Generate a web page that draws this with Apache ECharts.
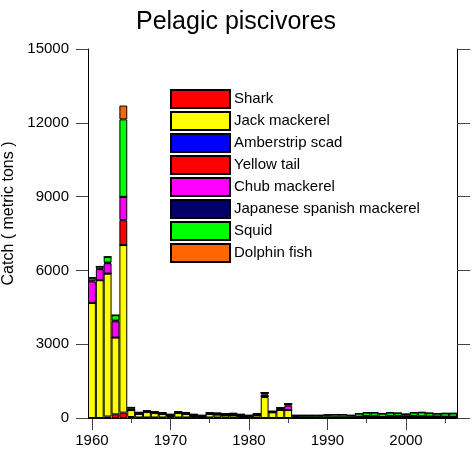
<!DOCTYPE html>
<html>
<head>
<meta charset="utf-8">
<script src="https://cdn.jsdelivr.net/npm/echarts@6/dist/echarts.min.js"></script>
<style>
html,body{margin:0;padding:0;background:#fff;}
#chart{width:472px;height:454px;}
</style>
</head>
<body>
<div id="chart"></div>
<script>
var years = [1960,1961,1962,1963,1964,1965,1966,1967,1968,1969,
             1970,1971,1972,1973,1974,1975,1976,1977,1978,1979,
             1980,1981,1982,1983,1984,1985,1986,1987,1988,1989,
             1990,1991,1992,1993,1994,1995,1996,1997,1998,1999,
             2000,2001,2002,2003,2004,2005,2006];

var seriesNames = ['Shark','Jack mackerel','Amberstrip scad','Yellow tail','Chub mackerel','Japanese spanish mackerel','Squid','Dolphin fish'];
var seriesColors = ['#ff0000','#ffff00','#0000ff','#ff0000','#ff00ff','#000066','#00ff00','#ff6600'];

var shark = [0,0,60,150,220,40,20,20,20,20,
             20,20,20,20,20,20,20,20,20,20,
             20,20,0,0,0,0,0,0,0,0,
             0,0,0,0,0,0,0,0,0,0,
             0,0,0,0,0,0,0];
var jackMackerel = [4680,5600,5810,3120,6810,280,150,220,180,140,
                    70,180,140,70,30,140,120,100,110,70,
                    30,110,850,230,330,320,20,10,10,10,
                    10,10,10,10,30,60,50,20,60,60,
                    50,60,50,40,40,30,30];
var amberstripScad = [0,0,0,0,0,0,0,0,0,0,
                      0,0,0,0,0,0,0,0,0,0,
                      0,0,30,0,0,0,0,0,0,0,
                      0,0,0,0,0,0,0,0,0,0,
                      0,0,0,0,0,0,0];
var yellowTail = [0,0,0,0,1010,0,0,0,0,0,
                  0,0,0,0,0,0,0,0,0,0,
                  0,0,0,0,0,0,0,0,0,0,
                  0,0,0,0,0,0,0,0,0,0,
                  0,0,0,0,0,0,0];
var chubMackerel = [870,450,420,660,950,0,0,0,0,0,
                    0,0,0,0,0,0,0,0,0,0,
                    0,0,70,0,0,180,0,0,0,0,
                    0,0,0,0,0,0,0,0,0,0,
                    0,0,0,0,0,0,0];
var japSpanishMackerel = [40,20,30,30,0,30,20,20,20,20,
                          20,20,20,20,20,20,20,20,20,20,
                          20,30,80,40,80,70,20,20,20,20,
                          20,20,20,20,20,20,20,20,20,20,
                          20,20,20,20,20,20,20];
var squid = [110,90,230,220,3150,80,40,40,40,40,
             40,40,40,40,40,40,40,40,40,40,
             40,20,0,0,0,0,70,80,80,80,
             100,110,110,80,130,140,150,140,140,120,
             90,140,160,140,120,140,140];
var dolphinFish = [0,0,0,0,560,0,0,0,0,0,
                   0,0,0,0,0,0,0,0,0,0,
                   0,0,0,0,0,0,0,0,0,0,
                   0,0,0,0,0,0,0,0,0,0,
                   0,0,0,0,0,0,0];

var yTicks = {min: 0, max: 15000, interval: 3000};

var seriesData = [shark, jackMackerel, amberstripScad, yellowTail, chubMackerel, japSpanishMackerel, squid, dolphinFish];

var FONT = '"Liberation Sans", Arial, sans-serif';

var chart = echarts.init(document.getElementById('chart'), null, {renderer: 'canvas'});

var series = seriesNames.map(function (name, i) {
  return {
    name: name,
    type: 'bar',
    stack: 'catch',
    xAxisIndex: 0,
    yAxisIndex: 0,
    barCategoryGap: '0%',
    barGap: '0%',
    data: seriesData[i],
    itemStyle: {color: seriesColors[i], borderColor: '#000', borderWidth: 1},
    emphasis: {disabled: true},
    animation: false
  };
});

var option = {
  animation: false,
  backgroundColor: '#fff',
  title: {
    text: 'Pelagic piscivores',
    left: 'center',
    top: 10,
    padding: 0,
    textStyle: {fontFamily: FONT, fontSize: 25, fontWeight: 'normal', color: '#000'}
  },
  legend: {
    orient: 'vertical',
    left: 170,
    top: 89,
    itemWidth: 59,
    itemHeight: 18,
    itemGap: 2,
    padding: 0,
    icon: 'rect',
    selectedMode: false,
    data: seriesNames,
    textStyle: {fontFamily: FONT, fontSize: 15, lineHeight: 18, color: '#000', padding: [0, 0, 0, -1]}
  },
  grid: {left: 88, right: 15, top: 49, bottom: 36, containLabel: false, outerBoundsMode: 'none'},
  xAxis: [
    {
      type: 'category',
      data: years,
      boundaryGap: true,
      axisLine: {show: true, lineStyle: {color: '#000', width: 1}},
      axisTick: {show: true, alignWithLabel: true, length: 5,
        interval: function (i, v) { return Number(v) % 5 === 0; },
        lineStyle: {color: '#444'}},
      axisLabel: {show: true, margin: 15, fontFamily: FONT, fontSize: 15, color: '#000',
        interval: function (i, v) { return Number(v) % 10 === 0; }},
      splitLine: {show: false}
    },
    {
      type: 'category',
      data: years,
      position: 'bottom',
      boundaryGap: true,
      axisLine: {show: false},
      axisTick: {show: true, alignWithLabel: true, length: 12,
        interval: function (i, v) { return Number(v) % 10 === 0; },
        lineStyle: {color: '#444'}},
      axisLabel: {show: false},
      splitLine: {show: false}
    }
  ],
  yAxis: [
    {
      type: 'value',
      position: 'left',
      min: yTicks.min, max: yTicks.max, interval: yTicks.interval,
      name: 'Catch ( metric tons )',
      nameLocation: 'middle',
      nameGap: 67,
      nameTextStyle: {fontFamily: FONT, fontSize: 16, color: '#000', padding: [0, 0, 0, 40]},
      axisLine: {show: true, lineStyle: {color: '#000'}},
      axisTick: {show: true, length: 12, lineStyle: {color: '#444'}},
      axisLabel: {fontFamily: FONT, fontSize: 15, color: '#000', margin: 19,
        formatter: function (v) { return String(v); }},
      splitLine: {show: false}
    },
    {
      type: 'value',
      position: 'right',
      min: yTicks.min, max: yTicks.max, interval: yTicks.interval,
      axisLine: {show: true, lineStyle: {color: '#000'}},
      axisTick: {show: true, length: 13, lineStyle: {color: '#444'}},
      axisLabel: {show: false},
      splitLine: {show: false}
    }
  ],
  series: series
};

chart.setOption(option);
</script>
</body>
</html>
